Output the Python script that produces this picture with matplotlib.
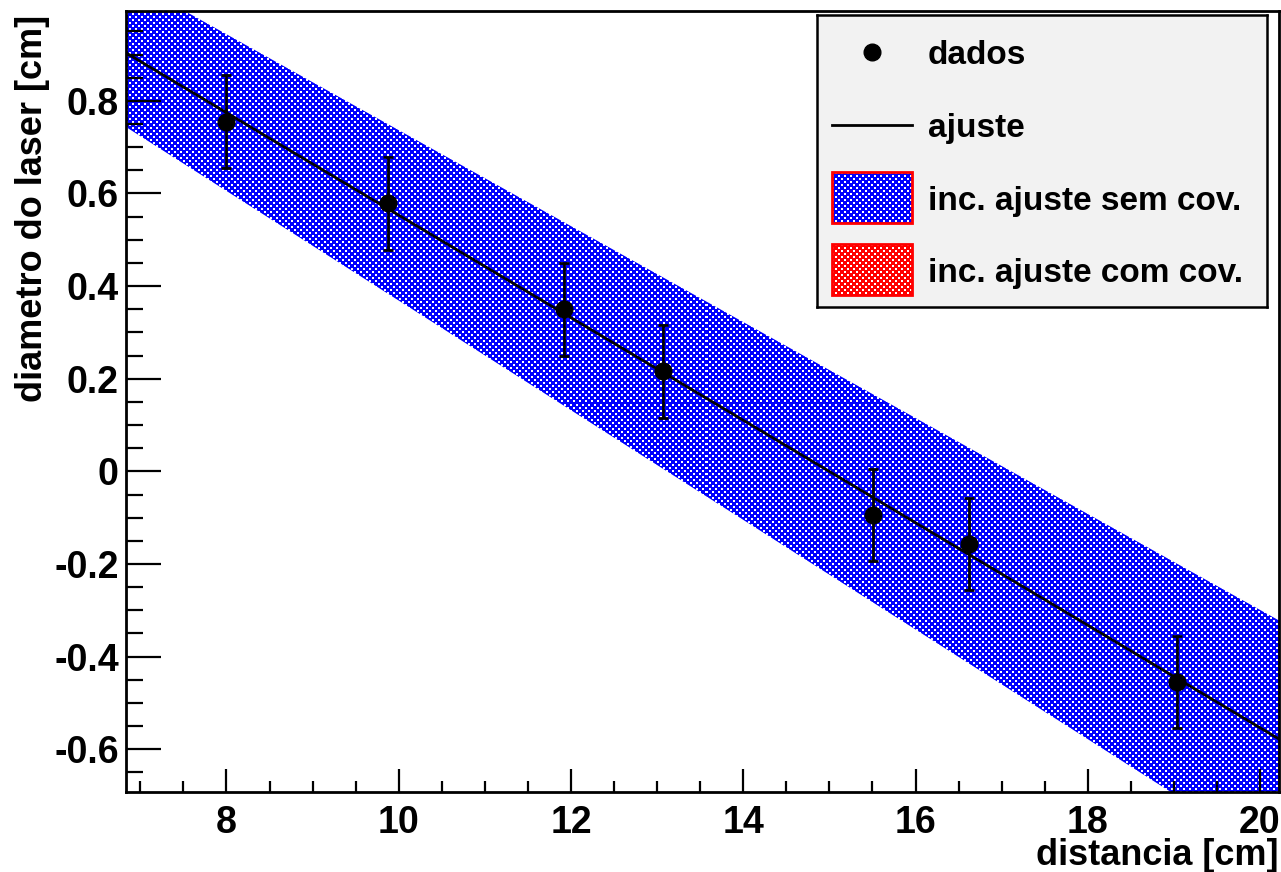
import numpy as np
import matplotlib
matplotlib.use("Agg")
import matplotlib.pyplot as plt
from matplotlib.patches import Polygon, Rectangle
from matplotlib.ticker import MultipleLocator

plt.rcParams['font.family'] = ['Liberation Sans', 'DejaVu Sans']
plt.rcParams['font.weight'] = 'bold'

# -----------------------------
# Data
# -----------------------------
dist = [7.99, 9.88, 11.92, 13.07, 15.51, 16.62, 19.03]
diam = [0.755, 0.579, 0.350, 0.216, -0.094, -0.157, -0.455]
diam_err = [0.10, 0.10, 0.10, 0.10, 0.10, 0.10, 0.10]

# fitted line, evaluated at the ends of the x range
fit_x = [6.83, 20.22]
fit_y = [0.904, -0.578]

# fit uncertainty band (no covariance)
band_x = [6.83, 20.22]
band_lo = [0.744, -0.841]
band_hi = [1.065, -0.322]

xlim = (6.83, 20.22)
ylim = (-0.693, 0.994)

W, H = 1281, 872


def fig_rect(x0, y0, x1, y1):
    # pixel box (top-left origin) -> figure fraction rect
    return [x0 / W, 1 - y1 / H, (x1 - x0) / W, (y1 - y0) / H]


def checker(h, w, rgb, cell=3):
    # coloured grid with small white squares in alternate cells
    yy, xx = np.mgrid[0:h, 0:w]
    alt = ((yy // cell + xx // cell) % 2) == 1
    inner = ((yy % cell) < cell - 1) & ((xx % cell) < cell - 1)
    img = np.empty((h, w, 3))
    img[:] = rgb
    img[alt & inner] = (1, 1, 1)
    return img


fig = plt.figure(figsize=(W / 100, H / 100), dpi=100)
ax = fig.add_axes(fig_rect(125.7, 11, 1279, 792.3))
ax.set_xlim(*xlim)
ax.set_ylim(*ylim)

# -----------------------------
# Band: blue checker pattern clipped to the band polygon
# -----------------------------
ax_w = int(round(1279 - 125.7))
ax_h = int(round(792.3 - 11))
im = ax.imshow(checker(ax_h, ax_w, (0, 0, 1)), extent=(*xlim, *ylim),
               origin='upper', interpolation='nearest', aspect='auto', zorder=1)
verts = list(zip(band_x, band_hi)) + list(zip(band_x[::-1], band_lo[::-1]))
band = Polygon(verts, closed=True, transform=ax.transData,
               facecolor='none', edgecolor='none')
ax.add_patch(band)
im.set_clip_path(band)

# -----------------------------
# Fit line and data
# -----------------------------
ax.plot(fit_x, fit_y, color='black', lw=2.0, zorder=3)
ax.errorbar(dist, diam, yerr=diam_err, fmt='o', color='black', ms=12,
            elinewidth=2.0, capsize=3.5, capthick=2.0, zorder=4)

# -----------------------------
# Axes styling
# -----------------------------
for s in ax.spines.values():
    s.set_linewidth(2.0)
ax.xaxis.set_major_locator(MultipleLocator(2))
ax.xaxis.set_minor_locator(MultipleLocator(0.5))
ax.yaxis.set_major_locator(MultipleLocator(0.2))
ax.yaxis.set_minor_locator(MultipleLocator(0.05))
ax.tick_params(axis='both', direction='in', width=1.6, labelsize=27)
ax.tick_params(axis='x', which='major', length=16.5, pad=9)
ax.tick_params(axis='x', which='minor', length=8, width=1.6, direction='in')
ax.tick_params(axis='y', which='major', length=25, pad=5)
ax.tick_params(axis='y', which='minor', length=12, width=1.6, direction='in')
ax.set_yticks([-0.6, -0.4, -0.2, 0, 0.2, 0.4, 0.6, 0.8])
ax.set_yticklabels(['-0.6', '-0.4', '-0.2', '0', '0.2', '0.4', '0.6', '0.8'])

ax.set_xlabel('distancia [cm]', fontsize=26, fontweight='bold', ha='right')
ax.xaxis.set_label_coords(1.0, -0.058)
ax.set_ylabel('diametro do laser [cm]', fontsize=26, fontweight='bold', ha='right')
ax.yaxis.set_label_coords(-0.066, 0.995)

# -----------------------------
# Legend, drawn in its own pixel-unit axes
# -----------------------------
lg = fig.add_axes(fig_rect(817, 15, 1267, 307))
lg.set_xticks([])
lg.set_yticks([])
lg.set_facecolor('#f2f2f2')
for s in lg.spines.values():
    s.set_linewidth(1.8)
lg.set_zorder(5)

lg.plot([55], [37], 'o', color='black', ms=12)
lg.plot([15, 95], [110, 110], color='black', lw=2.0)
for y0, rgb in [(157, (0, 0, 1)), (229, (1, 0, 0))]:
    rect = Rectangle((15, y0), 80, 51, facecolor='none', edgecolor='red', lw=2.0, zorder=3)
    lg.add_patch(rect)
    sw = lg.imshow(checker(51, 80, rgb), extent=(15, 95, y0 + 51, y0),
                   interpolation='nearest', aspect='auto', zorder=2)
    sw.set_clip_path(rect)
lg.set_xlim(0, 450)
lg.set_ylim(292, 0)

labels = ['dados', 'ajuste', 'inc. ajuste sem cov.', 'inc. ajuste com cov.']
rows = [40, 113, 186, 258]
for lab, y in zip(labels, rows):
    lg.text(111, y, lab, fontsize=24, fontweight='bold', va='center', ha='left')

fig.savefig('out.png', dpi=100)
